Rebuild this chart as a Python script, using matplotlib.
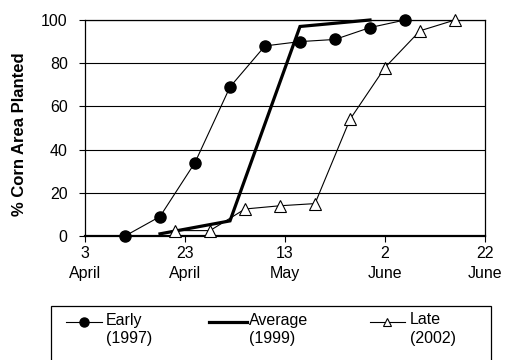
import numpy as np
import pandas as pd
import matplotlib
matplotlib.use("Agg")
import matplotlib.pyplot as plt
from matplotlib.lines import Line2D
from matplotlib.patches import Rectangle

plt.rcParams['font.family'] = ['Liberation Sans', 'DejaVu Sans']

## Planting progress, % of corn area planted (month-day, plotted on one calendar)
early_dates = ["04-11", "04-18", "04-25", "05-02", "05-09", "05-16", "05-23", "05-30", "06-06"]
early_pct = [0, 9, 34, 69, 88, 90, 91, 96.5, 100]

avg_dates = ["04-18", "05-02", "05-16", "05-30"]
avg_pct = [1, 7, 97, 100]

late_dates = ["04-21", "04-28", "05-05", "05-12", "05-19", "05-26", "06-02", "06-09", "06-16"]
late_pct = [2.5, 2.5, 12.5, 14, 15, 54, 78, 95, 100]

tick_dates = ["04-03", "04-23", "05-13", "06-02", "06-22"]
tick_labels = ["3\nApril", "23\nApril", "13\nMay", "2\nJune", "22\nJune"]

def to_dt(md):
    return pd.to_datetime(["2000-" + d for d in md])

W, H = 510, 360
fig = plt.figure(figsize=(W / 100, H / 100), dpi=100)
ax = fig.add_axes([85 / W, 1 - 236 / H, 400 / W, 216 / H])

ax.plot(to_dt(early_dates), early_pct, color='black', lw=0.8, marker='o',
        ms=8, mfc='black', mec='black', clip_on=False, zorder=3)
ax.plot(to_dt(avg_dates), avg_pct, color='black', lw=2.3, clip_on=False, zorder=3,
        solid_joinstyle='miter')
ax.plot(to_dt(late_dates), late_pct, color='black', lw=0.8, marker='^',
        ms=8, mfc='white', mec='black', mew=0.8, clip_on=False, zorder=3)

ax.set_xlim(to_dt(["04-03"])[0], to_dt(["06-22"])[0])
ax.set_ylim(0, 100)
ax.set_xticks(to_dt(tick_dates))
ax.set_xticklabels(tick_labels, linespacing=1.4)
ax.set_yticks([0, 20, 40, 60, 80, 100])
ax.tick_params(axis='both', labelsize=11.5, length=4.5, width=0.8, color='black')
ax.tick_params(axis='x', pad=2.5)
ax.tick_params(axis='y', pad=8)
ax.yaxis.grid(True, color='black', lw=0.8)
ax.set_axisbelow(True)
for s in ax.spines.values():
    s.set_linewidth(0.9)
ax.spines['bottom'].set_linewidth(1.6)

## Legend box below the plot
def fx(x):
    return x / W

def fy(y):
    return 1 - y / H

fig.text(fx(19.5), fy(134.5), "% Corn Area Planted", fontsize=12, fontweight='bold',
         rotation=90, ha='center', va='center')

fig.add_artist(Rectangle((fx(51), fy(362)), fx(491) - fx(51), fy(305.5) - fy(362),
                         transform=fig.transFigure, fill=False, lw=0.9,
                         edgecolor='black', clip_on=False))

entries = [
    (66, 102, 106, dict(lw=0.8, marker='o', ms=6.5, mfc='black', mec='black'), "Early\n(1997)"),
    (209, 247, 249, dict(lw=2.3), "Average\n(1999)"),
    (370, 405, 410, dict(lw=0.8, marker='^', ms=6, mfc='white', mec='black', mew=0.8), "Late\n(2002)"),
]
for x0, x1, xt, style, label in entries:
    xm = (x0 + x1) / 2
    fig.add_artist(Line2D([fx(x0), fx(x1)], [fy(321.5), fy(321.5)],
                          transform=fig.transFigure, color='black', lw=style.get('lw')))
    if 'marker' in style:
        fig.add_artist(Line2D([fx(xm)], [fy(321.5)], transform=fig.transFigure,
                              linestyle='none', marker=style['marker'], ms=style['ms'],
                              mfc=style['mfc'], mec=style['mec'], mew=style.get('mew', 1)))
    fig.text(fx(xt), fy(312.5), label, fontsize=11.5, ha='left', va='top', linespacing=1.3)

fig.savefig("out.png", dpi=100)
